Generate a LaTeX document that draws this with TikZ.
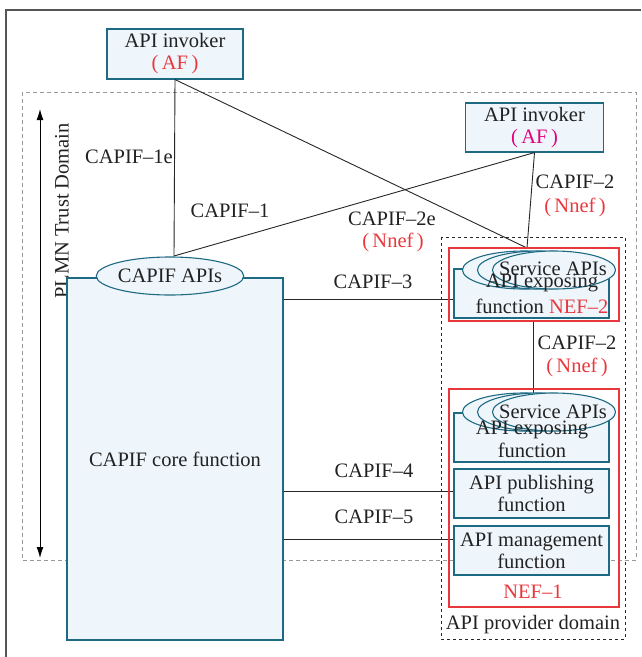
\documentclass[tikz,border=0pt]{standalone}
\usepackage{fontspec}
\setmainfont{Liberation Serif}
\usetikzlibrary{shapes.geometric,arrows.meta}
\definecolor{boxfill}{HTML}{EEF6FC}
\definecolor{boxline}{HTML}{1E6A82}
\definecolor{nefred}{HTML}{E8383D}
\definecolor{afmag}{HTML}{E5007F}
\definecolor{ink}{HTML}{222222}
\definecolor{frame}{HTML}{555555}
\begin{document}
\begin{tikzpicture}[x=1pt,y=-1pt,
  font=\rmfamily\fontsize{20.5}{22}\selectfont, text=ink,
  fnbox/.style={draw=boxline, fill=boxfill, line width=1.1pt, inner sep=0pt, align=center},
  apiell/.style={ellipse, draw=boxline, fill=boxfill, line width=1.1pt, inner sep=0pt,
    minimum width=123pt, minimum height=38pt},
  nefbox/.style={draw=nefred, line width=1.1pt, inner sep=0pt},
  lbl/.style={inner sep=0pt, align=center},
  link/.style={draw=black!85, line width=0.9pt},
  red/.style={text=nefred}]
\useasboundingbox (0,0) rectangle (641,657);

% outer frame (top and left edges)
\coordinate (fbl) at (6,657);
\coordinate (ftl) at (6,10);
\coordinate (ftr) at (641,10);
\draw[draw=frame, line width=1.6pt] (fbl) -- (ftl) -- (ftr);

% PLMN trust domain
\draw[draw=black!40, dashed, dash pattern=on 4pt off 3pt, line width=0.9pt]
  (22,92) rectangle (636,560);
\coordinate (plmnTop) at (40,109);
\coordinate (plmnBot) at (40,558);
\draw[line width=1pt, {Latex[length=11pt,width=7pt]}-{Latex[length=11pt,width=7pt]}]
  (plmnTop) -- (plmnBot);
\node[lbl, rotate=90] (plmn) at (62,211) {PLMN Trust Domain};

% API provider domain
\draw[draw=black!85, dashed, dash pattern=on 3pt off 3pt, line width=1pt]
  (441,237) rectangle (625,639);
\node[lbl] (provlbl) at (533,625) {API provider domain};

% invokers
\node[fnbox, minimum width=136pt, minimum height=50pt] (af1) at (175,54)
  {API invoker\\{\color{nefred}(\,AF\,)}};
\node[fnbox, minimum width=138pt, minimum height=49pt] (af2) at (534.5,127.5)
  {API invoker\\{\color{afmag}(\,AF\,)}};

% connection points
\coordinate (capisTop) at (174,256);
\coordinate (nef2Top) at (527,248);
\coordinate (c3) at (454,299);
\coordinate (c4) at (454,491);
\coordinate (c5) at (454,539);
\coordinate (nef2Bot) at (533,321);
\coordinate (nef1Top) at (533,394);

% connectors (drawn under the boxes)
\draw[link] (af1.south) -- (capisTop);
\draw[link] (af1.south) -- (nef2Top);
\draw[link] (af2.south) -- (capisTop);
\draw[link] (af2.south) -- (nef2Top);
\draw[link] (nef2Bot) -- (nef1Top);

% CAPIF core function
\node[fnbox, minimum width=216pt, minimum height=362pt] (core) at (175,459)
  {CAPIF core function};
\node[apiell] (capis) at (170,276) {CAPIF APIs};

\draw[link] (core.east |- c3) -- (c3);
\draw[link] (core.east |- c4) -- (c4);
\draw[link] (core.east |- c5) -- (c5);

% NEF-2
\node[nefbox, minimum width=170pt, minimum height=73pt] (nef2) at (534,284.5) {};
\node[fnbox, minimum width=155pt, minimum height=49pt] (exp2) at (531.5,293.5) {};
\node[apiell] (sa2a) at (524,270) {};
\node[apiell] (sa2b) at (539,270) {};
\node[apiell] (sa2c) at (554,270) {};
\node[lbl] (sa2t) at (553,269) {Service APIs};
\node[lbl] (exp2t1) at (542,283) {API exposing};
\node[lbl] (exp2t2) at (542,306) {function {\color{nefred}NEF–2}};

% NEF-1
\node[nefbox, minimum width=170pt, minimum height=218pt] (nef1) at (534,498) {};
\node[fnbox, minimum width=155pt, minimum height=49pt] (exp1) at (531.5,437.5) {};
\node[apiell] (sa1a) at (524,412) {};
\node[apiell] (sa1b) at (539,412) {};
\node[apiell] (sa1c) at (554,412) {};
\node[lbl] (sa1t) at (553,412) {Service APIs};
\node[lbl] (exp1t1) at (532,430) {API exposing};
\node[lbl] (exp1t2) at (532,450) {function};
\node[fnbox, minimum width=155pt, minimum height=49pt] (pub) at (531.5,493.5)
  {API publishing\\function};
\node[fnbox, minimum width=155pt, minimum height=49pt] (mgmt) at (531.5,550.5)
  {API management\\function};
\node[lbl, red] (nef1t) at (533,592) {NEF–1};

% reference point labels
\node[lbl] (l1e) at (129,157) {CAPIF–1e};
\node[lbl] (l1) at (230,211) {CAPIF–1};
\node[lbl] (l2e) at (392,219) {CAPIF–2e};
\node[lbl, red] (l2en) at (393,242) {(\,Nnef\,)};
\node[lbl] (l2a) at (575,182) {CAPIF–2};
\node[lbl, red] (l2an) at (575,207) {(\,Nnef\,)};
\node[lbl] (l3) at (373,282) {CAPIF–3};
\node[lbl] (l2b) at (577,343) {CAPIF–2};
\node[lbl, red] (l2bn) at (577,367) {(\,Nnef\,)};
\node[lbl] (l4) at (374,471) {CAPIF–4};
\node[lbl] (l5) at (374,517) {CAPIF–5};
\end{tikzpicture}
\end{document}
